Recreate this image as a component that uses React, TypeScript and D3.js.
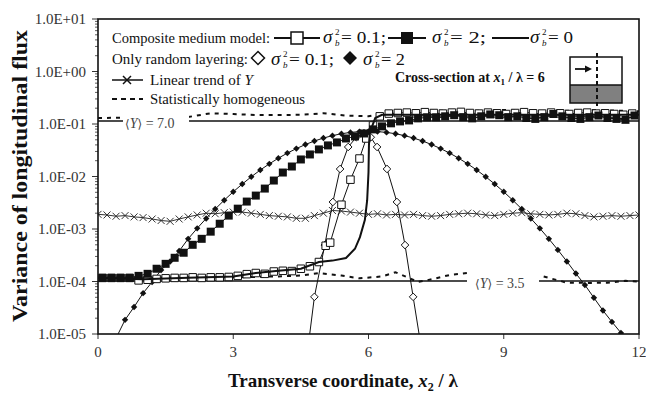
import React from "react";
import * as d3 from "d3";

// ---------- data ----------
const xTickValues = [0, 3, 6, 9, 12];
const yTickValues = [10, 1, 0.1, 0.01, 0.001, 0.0001, 0.00001];
const yTickLabels = ["1.0E+01", "1.0E+00", "1.0E-01", "1.0E-02", "1.0E-03", "1.0E-04", "1.0E-05"];

// Composite medium model, sigma_b^2 = 2 (filled squares)
const filledSqX = [0.1, 0.3, 0.5, 0.7, 0.9, 1.1, 1.3, 1.5, 1.7, 1.9, 2.1, 2.3, 2.5, 2.7, 2.9, 3.1, 3.3, 3.5, 3.7, 3.9, 4.1, 4.3, 4.5, 4.7, 4.9, 5.1, 5.3, 5.5, 5.7, 5.9, 6.1, 6.3, 6.5, 6.7, 6.9, 7.1, 7.3, 7.5, 7.7, 7.9, 8.1, 8.3, 8.5, 8.7, 8.9, 9.1, 9.3, 9.5, 9.7, 9.9, 10.1, 10.3, 10.5, 10.7, 10.9, 11.1, 11.3, 11.5, 11.7, 11.9];
const filledSqV = [1.17e-4, 1.17e-4, 1.17e-4, 1.17e-4, 1.28e-4, 1.4e-4, 1.75e-4, 2.17e-4, 2.83e-4, 3.53e-4, 5.0e-4, 6.5e-4, 8.9e-4, 1.26e-3, 1.8e-3, 2.44e-3, 3.33e-3, 4.33e-3, 5.89e-3, 8.38e-3, 1.19e-2, 1.55e-2, 2.11e-2, 2.63e-2, 3.28e-2, 3.91e-2, 4.46e-2, 5.3e-2, 5.8e-2, 6.6e-2, 7.9e-2, 9.0e-2, 0.103, 0.112, 0.117, 0.128, 0.134, 0.134, 0.14, 0.147, 0.135, 0.128, 0.14, 0.152, 0.147, 0.135, 0.14, 0.13, 0.125, 0.135, 0.155, 0.14, 0.13, 0.125, 0.135, 0.145, 0.13, 0.125, 0.12, 0.145];

// Composite medium model, sigma_b^2 = 0.1 (open squares)
const openSqX = [0.1, 0.3, 0.5, 0.7, 0.9, 1.1, 1.3, 1.5, 1.7, 1.9, 2.1, 2.3, 2.5, 2.7, 2.9, 3.1, 3.3, 3.5, 3.7, 3.9, 4.1, 4.3, 4.5, 4.7, 4.9, 5.05, 5.15, 5.4, 5.6, 5.8, 5.95, 6.1, 6.25, 6.45, 6.65, 6.85, 7.05, 7.25, 7.45, 7.65, 7.85, 8.05, 8.25, 8.45, 8.65, 8.85, 9.05, 9.25, 9.45, 9.65, 9.85, 10.05, 10.25, 10.45, 10.65, 10.85, 11.05, 11.25, 11.45, 11.65, 11.85];
const openSqV = [1.17e-4, 1.17e-4, 1.17e-4, 1.17e-4, 1.05e-4, 1.08e-4, 1.12e-4, 1.15e-4, 1.17e-4, 1.17e-4, 1.2e-4, 1.17e-4, 1.2e-4, 1.2e-4, 1.22e-4, 1.28e-4, 1.38e-4, 1.45e-4, 1.4e-4, 1.55e-4, 1.6e-4, 1.58e-4, 1.75e-4, 1.95e-4, 2.35e-4, 4.8e-4, 5.5e-4, 2.9e-3, 8.7e-3, 2.2e-2, 5.3e-2, 9.4e-2, 0.14, 0.158, 0.162, 0.165, 0.16, 0.168, 0.162, 0.158, 0.165, 0.17, 0.162, 0.158, 0.165, 0.16, 0.155, 0.162, 0.168, 0.16, 0.158, 0.165, 0.16, 0.155, 0.162, 0.165, 0.158, 0.16, 0.155, 0.15, 0.158];

// Composite medium model, sigma_b^2 = 0 (thick solid line)
const sigma0X = [0, 1, 2, 3, 3.5, 4, 4.5, 4.9, 5.2, 5.5, 5.7, 5.81, 5.92, 5.97, 6.0, 6.01, 6.03, 6.15, 6.3, 7, 8, 9, 10, 11, 12];
const sigma0V = [1.17e-4, 1.1e-4, 1.18e-4, 1.25e-4, 1.45e-4, 1.6e-4, 1.75e-4, 2.35e-4, 2.5e-4, 2.8e-4, 4.2e-4, 7.0e-4, 1.5e-3, 3.5e-3, 1.2e-2, 4.0e-2, 7.0e-2, 0.13, 0.15, 0.15, 0.15, 0.15, 0.15, 0.15, 0.15];

// Only random layering, sigma_b^2 = 0.1 (open diamonds)
const openDiaX = [4.6, 4.8, 5.03, 5.21, 5.37, 5.55, 5.73, 5.9, 6.05, 6.19, 6.41, 6.63, 6.81, 6.99, 7.2];
const openDiaV = [2.2e-6, 5.1e-5, 4.95e-4, 3.27e-3, 1.39e-2, 3.65e-2, 5.6e-2, 6.7e-2, 5.6e-2, 3.65e-2, 1.39e-2, 3.27e-3, 4.95e-4, 5.1e-5, 3.8e-6];

// Only random layering, sigma_b^2 = 2 (filled diamonds)
const filledDiaX = [0.4, 0.6, 0.8, 1.0, 1.2, 1.4, 1.6, 1.8, 2.0, 2.2, 2.4, 2.6, 2.8, 3.0, 3.2, 3.4, 3.6, 3.8, 4.0, 4.2, 4.4, 4.6, 4.8, 5.0, 5.2, 5.4, 5.6, 5.8, 6.0, 6.2, 6.4, 6.6, 6.8, 7.0, 7.2, 7.4, 7.6, 7.8, 8.0, 8.2, 8.4, 8.6, 8.8, 9.0, 9.2, 9.4, 9.6, 9.8, 10.0, 10.2, 10.4, 10.6, 10.8, 11.0, 11.2, 11.4, 11.6, 11.8];
const filledDiaV = [8.3e-6, 1.86e-5, 3.27e-5, 6.0e-5, 9.8e-5, 1.66e-4, 2.4e-4, 3.8e-4, 6.49e-4, 1.03e-3, 1.59e-3, 2.4e-3, 3.54e-3, 5.11e-3, 7.18e-3, 9.88e-3, 1.33e-2, 1.74e-2, 2.23e-2, 2.79e-2, 3.4e-2, 4.06e-2, 4.74e-2, 5.4e-2, 6.0e-2, 6.52e-2, 6.92e-2, 7.16e-2, 7.24e-2, 7.16e-2, 6.92e-2, 6.52e-2, 6.0e-2, 5.4e-2, 4.74e-2, 4.06e-2, 3.4e-2, 2.79e-2, 2.23e-2, 1.74e-2, 1.33e-2, 9.88e-3, 7.18e-3, 5.11e-3, 3.54e-3, 2.4e-3, 1.59e-3, 1.03e-3, 6.49e-4, 4.0e-4, 2.41e-4, 1.42e-4, 8.6e-5, 4.9e-5, 2.8e-5, 1.7e-5, 1.05e-5, 6.0e-6];

// Linear trend of Y (crosses)
const trendX = [0, 0.2, 0.4, 0.6, 0.8, 1.0, 1.2, 1.4, 1.6, 1.8, 2.0, 2.2, 2.4, 2.6, 2.8, 3.0, 3.2, 3.4, 3.6, 3.8, 4.0, 4.2, 4.4, 4.6, 4.8, 5.0, 5.2, 5.4, 5.6, 5.8, 6.0, 6.2, 6.4, 6.6, 6.8, 7.0, 7.2, 7.4, 7.6, 7.8, 8.0, 8.2, 8.4, 8.6, 8.8, 9.0, 9.2, 9.4, 9.6, 9.8, 10.0, 10.2, 10.4, 10.6, 10.8, 11.0, 11.2, 11.4, 11.6, 11.8, 12.0];
const trendV = [1.9e-3, 1.85e-3, 1.75e-3, 1.8e-3, 1.7e-3, 1.65e-3, 1.55e-3, 1.45e-3, 1.4e-3, 1.55e-3, 1.7e-3, 1.85e-3, 2.0e-3, 1.95e-3, 2.05e-3, 2.1e-3, 2.1e-3, 2.0e-3, 1.9e-3, 1.8e-3, 1.75e-3, 1.7e-3, 1.6e-3, 1.6e-3, 1.8e-3, 2.0e-3, 2.25e-3, 2.2e-3, 2.1e-3, 2.0e-3, 1.9e-3, 1.95e-3, 1.85e-3, 1.9e-3, 1.85e-3, 1.9e-3, 1.8e-3, 1.75e-3, 1.8e-3, 1.9e-3, 1.95e-3, 2.0e-3, 1.95e-3, 1.85e-3, 1.8e-3, 1.9e-3, 2.0e-3, 2.05e-3, 1.95e-3, 1.9e-3, 1.85e-3, 1.9e-3, 2.0e-3, 1.95e-3, 1.8e-3, 1.7e-3, 1.75e-3, 1.8e-3, 1.75e-3, 1.8e-3, 1.85e-3];

// Statistically homogeneous (dashed), <Y> = 7.0 and <Y> = 3.5
const homUpperX = [0, 0.5, 1.0, 1.5, 2.0, 2.5, 3.0, 3.5, 4.0, 4.5, 5.0, 5.5, 6.0, 6.5, 7.0, 7.5, 8.0, 8.5, 9.0, 9.5, 10.0, 10.5, 11.0, 11.5, 12.0];
const homUpperV = [0.13, 0.132, 0.13, 0.133, 0.136, 0.16, 0.155, 0.148, 0.148, 0.15, 0.16, 0.145, 0.14, 0.17, 0.18, 0.18, 0.175, 0.18, 0.185, 0.18, 0.175, 0.18, 0.185, 0.18, 0.175];
const homLowerX = [0, 1.0, 2.0, 3.0, 4.0, 4.5, 4.9, 5.4, 5.8, 6.3, 6.6, 7.1, 7.4, 7.8, 8.2, 8.8, 9.4, 9.8, 10.4, 10.9, 11.3, 11.7, 12.0];
const homLowerV = [1.2e-4, 1.18e-4, 1.2e-4, 1.2e-4, 1.25e-4, 1.3e-4, 1.45e-4, 1.3e-4, 1.15e-4, 1.25e-4, 1.5e-4, 9.8e-5, 1.1e-4, 1.33e-4, 1.45e-4, 1.4e-4, 1.35e-4, 1.3e-4, 9.5e-5, 9.4e-5, 9.5e-5, 1.03e-4, 1.0e-4];

// Analytic levels for homogeneous media
const levelUpper = 0.114; // <Y> = 7.0
const levelLower = 1.02e-4; // <Y> = 3.5

// ---------- layout ----------
const W = 646;
const H = 395;
const PL = 98, PR = 639, PT = 19, PB = 334;
const SERIF = "'Liberation Serif', 'Times New Roman', serif";
const INK = "#111";

const x = d3.scaleLinear().domain([0, 12]).range([PL, PR]);
const y = d3.scaleLog().domain([1e-5, 10]).range([PB, PT]);

const zip = (xs: number[], vs: number[]) => xs.map((d, i) => [d, vs[i]] as [number, number]);
const line = d3.line<[number, number]>().x((d) => x(d[0])).y((d) => y(d[1]));

const sqPath = (s: number) => `M${-s / 2},${-s / 2}h${s}v${s}h${-s}z`;
const diaPath = (r: number) => `M0,${-r}L${r},0L0,${r}L${-r},0Z`;
const crossPath = (r: number) => `M${-r},${-r}L${r},${r}M${-r},${r}L${r},${-r}`;

function Sigma({ px, base, val, w }: { px: number; base: number; val: string; w: number }) {
  return (
    <g fontFamily={SERIF} fill={INK}>
      <text x={px} y={base} fontSize={19} fontStyle="italic">σ</text>
      <text x={px + 12} y={base - 8} fontSize={9}>2</text>
      <text x={px + 12} y={base + 3} fontSize={9} fontStyle="italic">b</text>
      <text x={px + 18} y={base} fontSize={17} textLength={w} lengthAdjust="spacingAndGlyphs">{val}</text>
    </g>
  );
}

export default function App() {
  const minorTicks: number[] = [];
  for (let e = -5; e < 1; e++) for (let m = 2; m <= 9; m++) minorTicks.push(m * Math.pow(10, e));

  const filledSq = zip(filledSqX, filledSqV);
  const openSq = zip(openSqX, openSqV);
  const sig0 = zip(sigma0X, sigma0V);
  const openDia = zip(openDiaX, openDiaV);
  const filledDia = zip(filledDiaX, filledDiaV);
  const trend = zip(trendX, trendV);
  const homU = zip(homUpperX, homUpperV);
  const homL = zip(homLowerX, homLowerV);

  return (
    <svg width={W} height={H} style={{ position: "absolute", left: 0, top: 0, background: "#fff" }}>
      <defs>
        <clipPath id="plot">
          <rect x={PL} y={PT} width={PR - PL} height={PB - PT} />
        </clipPath>
      </defs>
      <rect x={0} y={0} width={W} height={H} fill="#fff" />

      {/* y axis ticks & labels */}
      {minorTicks.map((v, i) => (
        <line key={"mt" + i} x1={PL - 3} x2={PL} y1={y(v)} y2={y(v)} stroke="#333" strokeWidth={0.8} />
      ))}
      {yTickValues.map((v, i) => (
        <g key={"yt" + i}>
          <line x1={PL - 6} x2={PL} y1={y(v)} y2={y(v)} stroke="#333" strokeWidth={1} />
          <text x={PL - 12} y={y(v)} dy="0.35em" textAnchor="end" fontFamily={SERIF} fontSize={15} fill="#333">
            {yTickLabels[i]}
          </text>
        </g>
      ))}
      {/* x axis ticks & labels */}
      {xTickValues.map((v, i) => (
        <g key={"xt" + i}>
          <line x1={x(v)} x2={x(v)} y1={PB} y2={PB + 5} stroke="#333" strokeWidth={1} />
          <text x={x(v)} y={PB + 23} textAnchor="middle" fontFamily={SERIF} fontSize={15} fill="#333">
            {v}
          </text>
        </g>
      ))}

      {/* axis titles */}
      <text
        transform={`translate(27,${176}) rotate(-90)`}
        textAnchor="middle"
        fontFamily={SERIF}
        fontWeight="bold"
        fontSize={20}
        fill={INK}
        textLength={292}
        lengthAdjust="spacingAndGlyphs"
      >
        Variance of longitudinal flux
      </text>
      <text x={343} y={387} textAnchor="middle" fontFamily={SERIF} fontWeight="bold" fontSize={19} fill={INK}>
        Transverse coordinate, <tspan fontStyle="italic">x</tspan>
        <tspan fontSize={12} dy={4}>2</tspan>
        <tspan dy={-4}> / λ</tspan>
      </text>

      <g clipPath="url(#plot)">
        {/* homogeneous reference lines */}
        <line x1={x(0)} x2={x(12)} y1={y(levelUpper)} y2={y(levelUpper)} stroke={INK} strokeWidth={1.5} />
        <line x1={x(0)} x2={x(12)} y1={y(levelLower)} y2={y(levelLower)} stroke={INK} strokeWidth={1.5} />
        <path d={line(homU) || ""} fill="none" stroke={INK} strokeWidth={2} strokeDasharray="4,5" />
        <path d={line(homL) || ""} fill="none" stroke={INK} strokeWidth={2} strokeDasharray="4,5" />

        {/* label gaps */}
        <rect x={123} y={110} width={66} height={22} fill="#fff" />
        <text x={125} y={128} fontFamily={SERIF} fontSize={14} fill="#444">
          <tspan fontFamily="'DejaVu Serif', serif" fontSize={12}>⟨</tspan>
          <tspan fontStyle="italic">Y</tspan>
          <tspan fontFamily="'DejaVu Serif', serif" fontSize={12}>⟩</tspan> = 7.0
        </text>
        <rect x={467} y={272} width={72} height={20} fill="#fff" />
        <text x={475} y={288} fontFamily={SERIF} fontSize={14} fill="#444">
          <tspan fontFamily="'DejaVu Serif', serif" fontSize={12}>⟨</tspan>
          <tspan fontStyle="italic">Y</tspan>
          <tspan fontFamily="'DejaVu Serif', serif" fontSize={12}>⟩</tspan> = 3.5
        </text>

        {/* linear trend */}
        <path d={line(trend) || ""} fill="none" stroke="#333" strokeWidth={1} />
        {trend.map((d, i) => (
          <path key={"tr" + i} d={crossPath(3.5)} transform={`translate(${x(d[0])},${y(d[1])})`} stroke="#333" strokeWidth={1} fill="none" />
        ))}

        {/* filled diamonds */}
        <path d={line(filledDia) || ""} fill="none" stroke={INK} strokeWidth={1} />
        {filledDia.map((d, i) => (
          <path key={"fd" + i} d={diaPath(3.2)} transform={`translate(${x(d[0])},${y(d[1])})`} fill={INK} />
        ))}

        {/* open diamonds */}
        <path d={line(openDia) || ""} fill="none" stroke={INK} strokeWidth={1} />
        {openDia.map((d, i) => (
          <path key={"od" + i} d={diaPath(3.8)} transform={`translate(${x(d[0])},${y(d[1])})`} fill="#fff" stroke={INK} strokeWidth={1} />
        ))}

        {/* open squares */}
        <path d={line(openSq) || ""} fill="none" stroke={INK} strokeWidth={1} />
        {openSq.map((d, i) => (
          <path key={"os" + i} d={sqPath(7.5)} transform={`translate(${x(d[0])},${y(d[1])})`} fill="#fff" stroke={INK} strokeWidth={1} />
        ))}

        {/* sigma 0 line */}
        <path d={line(sig0) || ""} fill="none" stroke={INK} strokeWidth={2} />

        {/* filled squares */}
        <path d={line(filledSq) || ""} fill="none" stroke={INK} strokeWidth={1} />
        {filledSq.map((d, i) => (
          <path key={"fs" + i} d={sqPath(8)} transform={`translate(${x(d[0])},${y(d[1])})`} fill={INK} />
        ))}
      </g>

      {/* frame */}
      <rect x={PL} y={PT} width={PR - PL} height={PB - PT} fill="none" stroke={INK} strokeWidth={1.6} />

      {/* legend */}
      <g fontFamily={SERIF} fill={INK}>
        <text x={112} y={43} fontSize={15} textLength={158} lengthAdjust="spacingAndGlyphs">Composite medium model:</text>
        <line x1={274} x2={320} y1={38} y2={38} stroke={INK} strokeWidth={2} />
        <path d={sqPath(12)} transform="translate(297,38)" fill="#fff" stroke={INK} strokeWidth={1.5} />
        <Sigma px={323} base={43} val="= 0.1;" w={45} />
        <line x1={388} x2={426} y1={38} y2={38} stroke={INK} strokeWidth={2} />
        <path d={sqPath(12)} transform="translate(407,38)" fill={INK} />
        <Sigma px={432} base={43} val="= 2;" w={36} />
        <line x1={492} x2={529} y1={38} y2={38} stroke={INK} strokeWidth={2} />
        <Sigma px={530} base={43} val="= 0" w={25} />

        <text x={112} y={64} fontSize={15} textLength={136} lengthAdjust="spacingAndGlyphs">Only random layering:</text>
        <path d={diaPath(6.5)} transform="translate(258,58)" fill="#fff" stroke={INK} strokeWidth={1.5} />
        <Sigma px={271} base={65} val="= 0.1;" w={45} />
        <path d={diaPath(7)} transform="translate(350,58)" fill={INK} />
        <Sigma px={363} base={65} val="= 2" w={24} />

        <line x1={112} x2={143} y1={80} y2={80} stroke={INK} strokeWidth={1.5} />
        <path d={crossPath(4)} transform="translate(127,80)" stroke={INK} strokeWidth={1.5} fill="none" />
        <text x={150} y={85} fontSize={14} textLength={103} lengthAdjust="spacingAndGlyphs">
          Linear trend of <tspan fontStyle="italic">Y</tspan>
        </text>

        <line x1={112} x2={143} y1={99} y2={99} stroke={INK} strokeWidth={2} strokeDasharray="5,4" />
        <text x={150} y={104} fontSize={14} textLength={155} lengthAdjust="spacingAndGlyphs">Statistically homogeneous</text>

        <text x={395} y={82} fontSize={14} fontWeight="bold">
          Cross-section at <tspan fontStyle="italic">x</tspan>
          <tspan fontSize={9} dy={3}>1</tspan>
          <tspan dy={-3}> / λ = 6</tspan>
        </text>
      </g>

      {/* cross-section inset */}
      <rect x={570} y={85} width={52} height={18} fill="#808080" />
      <rect x={570} y={57} width={52} height={46} fill="none" stroke={INK} strokeWidth={1.5} />
      <line x1={570} x2={622} y1={85} y2={85} stroke={INK} strokeWidth={1.5} />
      <line x1={597} x2={597} y1={53} y2={107} stroke={INK} strokeWidth={2} strokeDasharray="4,3" />
      <line x1={575} x2={588} y1={69} y2={69} stroke={INK} strokeWidth={1.8} />
      <path d="M592,69 L585,65.5 L585,72.5 Z" fill={INK} />
    </svg>
  );
}
